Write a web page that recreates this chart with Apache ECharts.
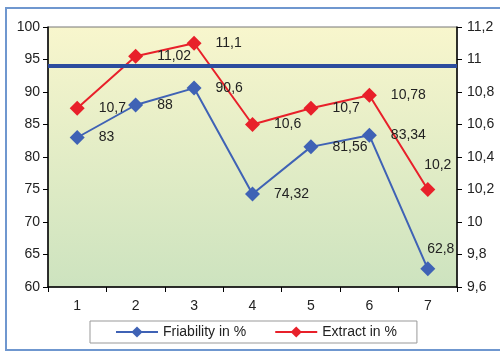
<!DOCTYPE html>
<html>
<head>
<meta charset="utf-8">
<script src="https://cdn.jsdelivr.net/npm/echarts@6/dist/echarts.min.js"></script>
<style>
html,body{margin:0;padding:0;background:#fff;}
#chart{width:500px;height:351px;}
</style>
</head>
<body>
<div id="chart"></div>
<script>
// Sample numbers along the x axis
const categories = ['1', '2', '3', '4', '5', '6', '7'];
// Friability in % (left axis)
const friability = [83, 88, 90.6, 74.32, 81.56, 83.34, 62.8];
// Extract in % (right axis)
const extract = [10.7, 11.02, 11.1, 10.6, 10.7, 10.78, 10.2];
// Reference level drawn across the plot (left axis)
const referenceLevel = 94;

const FONT = '"Liberation Sans", Arial, sans-serif';
const comma = v => String(parseFloat(Number(v).toFixed(2))).replace('.', ',');

const chart = echarts.init(document.getElementById('chart'), null, {renderer: 'canvas'});

const labelBase = {
  show: true,
  position: 'right',
  distance: 14,
  color: '#222',
  fontFamily: FONT,
  fontSize: 14,
  formatter: p => comma(p.value)
};

const friabilityData = friability.map((v, i) => i === 6
  ? {value: v, label: {position: 'top', distance: 5, offset: [13, 0]}}
  : v);
const extractData = extract.map((v, i) => i === 6
  ? {value: v, label: {position: 'top', distance: 10, offset: [10, 0]}}
  : v);

chart.setOption({
  animation: false,
  backgroundColor: '#fff',
  textStyle: {fontFamily: FONT},
  graphic: [{
    type: 'rect',
    shape: {x: 6, y: 8, width: 520, height: 342},
    style: {fill: 'none', stroke: '#6f97cf', lineWidth: 2},
    silent: true,
    z: -10
  }],
  grid: {
    left: 48, right: 43, top: 27, bottom: 64,
    show: true,
    borderColor: '#777',
    borderWidth: 1,
    backgroundColor: {
      type: 'linear', x: 0, y: 0, x2: 0, y2: 1,
      colorStops: [
        {offset: 0, color: '#f8f6cd'},
        {offset: 1, color: '#cde3bf'}
      ]
    }
  },
  legend: {
    left: 90, top: 321,
    padding: [4, 20, 4, 25],
    backgroundColor: '#fff',
    borderColor: '#999',
    borderWidth: 1,
    itemWidth: 42,
    itemHeight: 14,
    itemGap: 28,
    textStyle: {fontFamily: FONT, fontSize: 14, color: '#222'},
    data: ['Friability in %', 'Extract in %']
  },
  xAxis: {
    type: 'category',
    data: categories,
    boundaryGap: true,
    axisLine: {lineStyle: {color: '#000', width: 1.5}},
    axisTick: {show: true, length: 5, lineStyle: {color: '#000'}},
    axisLabel: {color: '#222', fontFamily: FONT, fontSize: 14, margin: 12},
    splitLine: {show: false}
  },
  yAxis: [{
    type: 'value',
    min: 60, max: 100, interval: 5,
    axisLine: {show: true, lineStyle: {color: '#000', width: 1.5}},
    axisTick: {show: true, length: 5, lineStyle: {color: '#000'}},
    axisLabel: {color: '#222', fontFamily: FONT, fontSize: 14, margin: 8},
    splitLine: {show: false}
  }, {
    type: 'value',
    min: 9.6, max: 11.2, interval: 0.2,
    position: 'right',
    axisLine: {show: true, lineStyle: {color: '#000', width: 1.5}},
    axisTick: {show: true, length: 5, lineStyle: {color: '#000'}},
    axisLabel: {color: '#222', fontFamily: FONT, fontSize: 14, margin: 10, formatter: v => comma(v)},
    splitLine: {show: false}
  }],
  series: [{
    name: 'Friability in %',
    type: 'line',
    yAxisIndex: 0,
    data: friabilityData,
    symbol: 'diamond',
    symbolSize: 15,
    lineStyle: {color: '#3f62b5', width: 2},
    itemStyle: {color: '#3f62b5'},
    label: labelBase,
    z: 3,
    markLine: {
      silent: true,
      symbol: 'none',
      label: {show: false},
      lineStyle: {color: '#2c4c9e', width: 4, type: 'solid'},
      data: [{yAxis: referenceLevel}]
    }
  }, {
    name: 'Extract in %',
    type: 'line',
    yAxisIndex: 1,
    data: extractData,
    symbol: 'diamond',
    symbolSize: 15,
    lineStyle: {color: '#e8202a', width: 2},
    itemStyle: {color: '#e8202a'},
    label: labelBase,
    z: 2
  }]
});
</script>
</body>
</html>
